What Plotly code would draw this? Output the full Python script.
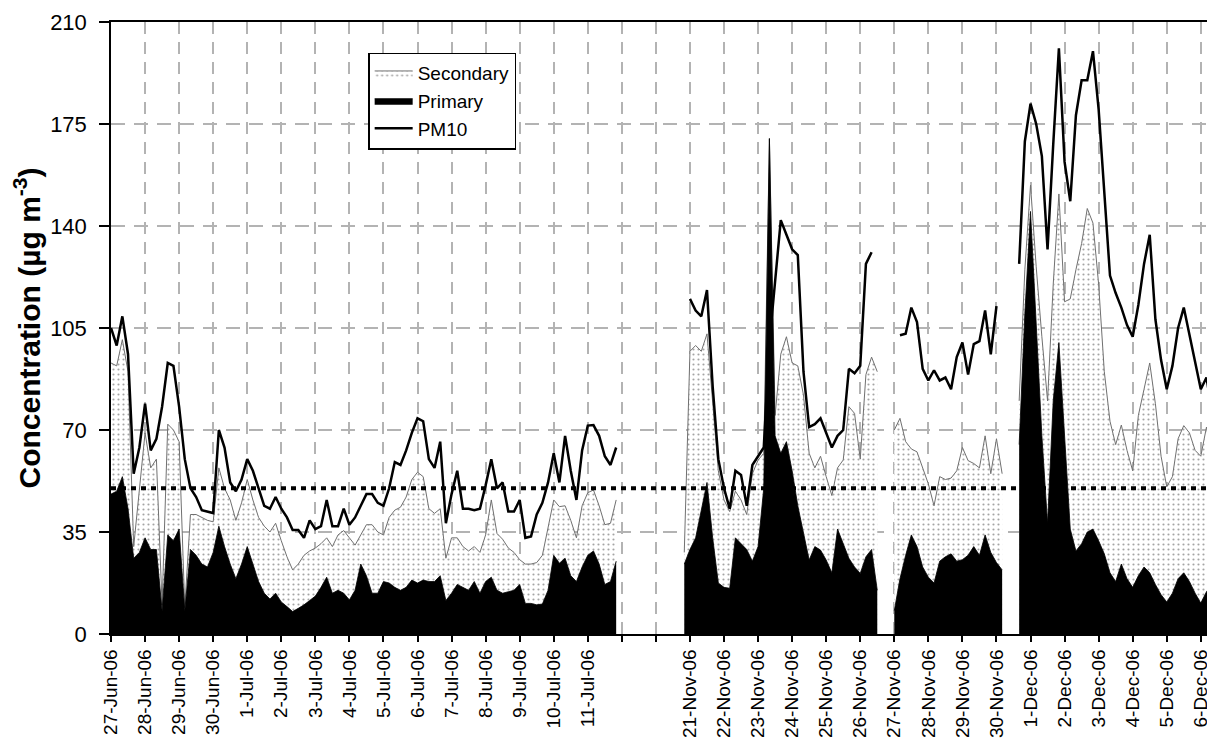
import numpy as np
import plotly.graph_objects as go

# ---------------- data ----------------
# time step: 4 h (6 values per day); day index 0 = 27-Jun-06
STEPS_PER_DAY = 6
JUL_START_DAY = 0            # 27-Jun-06 00:00
NOV_START_DAY = 17 - 1 / 6   # 20-Nov-06 20:00 (axis index 17 = 21-Nov-06)

# summer campaign (27-Jun-06 .. 11-Jul-06)
jul_pm10 = [
    105, 99, 109, 96, 55, 64, 79, 63, 67, 78,
    93, 92, 78, 60, 50, 47, 42.5, 42, 41.5, 70,
    64, 52, 49, 53, 60, 56, 50, 44, 43, 47,
    43, 40, 35.7, 35.7, 33, 39, 36, 37, 46, 37,
    37, 43, 37.5, 40, 44, 48, 48, 45, 44, 50,
    59, 58, 63, 69, 74, 73, 60, 57, 66, 38,
    48, 56, 43, 43, 42.5, 43, 51, 60, 50, 52,
    42, 42, 46, 33, 33.5, 41, 45, 52, 62, 52,
    68, 56, 46, 63, 71.5, 71.7, 68, 61, 58, 64]
# top of the dotted area = primary + secondary
jul_total = [
    93, 92, 101, 90, 30, 50, 69, 57, 60, 10,
    72, 70, 66, 9, 41, 41, 40, 39, 38.5, 57,
    50, 46, 39, 45, 53, 46, 40, 37, 35, 38,
    32, 26.5, 22, 24, 27, 28.5, 29.5, 31, 33, 30,
    34, 35.5, 33, 30.5, 34, 37.5, 37.5, 35, 34, 40,
    42.5, 43.5, 47, 53, 55.5, 54, 43, 41.4, 43, 26,
    33, 33, 30, 28.5, 30, 28, 34, 46, 34.5, 32.5,
    29.5, 28, 25.5, 24, 24, 24.5, 27, 36, 46, 43.7,
    44, 39, 33, 44, 48.5, 49.4, 44, 37.5, 38, 46]
jul_primary = [
    48, 49, 54, 43, 26, 28, 33, 29, 29, 8,
    34, 32, 36, 8, 29, 27, 24, 23, 28, 37,
    30, 24, 19, 24, 30, 24, 18, 14, 12, 14,
    11, 9.4, 7.7, 8.8, 10, 11.5, 13, 16, 19.5, 14,
    15, 14, 11.7, 15, 24, 20, 14, 14, 18, 17.5,
    16, 15, 16, 18.5, 17.5, 18.5, 18, 18, 20, 11.5,
    14, 17, 16, 15, 18, 14, 18, 19.5, 15, 14,
    14.5, 15, 17, 10.5, 10.5, 10, 10.3, 15, 27, 24.3,
    26, 20, 18, 23, 27, 28.5, 24, 17, 18, 25]

# winter campaign (20-Nov-06 20:00 .. 6-Dec-06)
nov_pm10 = [
    None, 115, 111, 109, 118, 85, 60, 50, 43, 56,
    54.6, 44, 58, 61, 64, 100, 122, 142, 137, 132,
    130, 90, 71, 72, 74, 69, 64, 68, 70, 91,
    89.5, 92, 127, 131, None, None, None, None, 102.5, 103,
    112, 107, 91, 87, 90.5, 87, 88, 84, 95, 100,
    89, 99.5, 100.5, 111, 96, 112.5, None, None, None,
    127, 169, 182, 175, 164, 132, 168, 201, 162, 148.5,
    178, 190, 190, 200, 180, 150, 123, 117, 112, 106,
    102, 113, 127, 137, 108, 94, 84, 92, 105, 112,
    103, 93, 84, 88, 76]
nov_total = [
    28, 97, 99, 97, 103, 78, 56, 46, 42, 49,
    46, 41, 55, 59.7, 62, 170, 75, 96, 102, 93,
    92, 82, 62, 57, 61, 54, 47.5, 57, 59.7, 78,
    75.7, 60, 89, 95, 90, None, None, 70, 74, 66,
    63.5, 62.5, 57, 51.5, 44, 54, 53, 53.5, 56, 64,
    59.5, 58.5, 57, 68, 55, 67, 55, None, None,
    80, 125, 154, 126, 102, 80, 120, 151, 114, 115,
    125, 134, 146, 141, 120, 90, 73, 65, 71.7, 63,
    56, 75, 84, 93, 79, 61, 50.5, 54, 67, 71.5,
    69, 63, 61, 71, 60]
nov_primary = [
    24, 29, 33, 42, 52, 33, 17.5, 16, 15.7, 33,
    31, 29, 25, 30, 50, 170, 68, 62, 66, 56,
    44, 35, 25.4, 30, 28.8, 25.4, 21, 36, 31, 26,
    23, 20.8, 26.5, 29, 15, None, None, 8, 19, 27,
    34, 30, 23, 19.5, 17.5, 25, 26.5, 27.5, 25, 25.5,
    27, 30, 27, 34, 28, 24.5, 22, None, None,
    65, 110, 145, 105, 68, 38, 80, 100, 68, 36,
    28.5, 31, 35, 36, 32, 27.5, 21, 18, 24, 19,
    16, 20, 23, 21, 17, 13.5, 11, 14, 19, 21,
    18, 14, 10.6, 14.5, 17]

tick_labels = [
    "27-Jun-06", "28-Jun-06", "29-Jun-06", "30-Jun-06", "1-Jul-06", "2-Jul-06",
    "3-Jul-06", "4-Jul-06", "5-Jul-06", "6-Jul-06", "7-Jul-06", "8-Jul-06",
    "9-Jul-06", "10-Jul-06", "11-Jul-06",
    "21-Nov-06", "22-Nov-06", "23-Nov-06", "24-Nov-06", "25-Nov-06", "26-Nov-06",
    "27-Nov-06", "28-Nov-06", "29-Nov-06", "30-Nov-06", "1-Dec-06", "2-Dec-06",
    "3-Dec-06", "4-Dec-06", "5-Dec-06", "6-Dec-06"]
# axis positions (day index) of the labels; 15 and 16 are unlabeled break days
tick_positions = list(range(0, 15)) + list(range(17, 33))
blank_positions = [15, 16]

PM10_LIMIT = 50
Y_TICKS = [0, 35, 70, 105, 140, 175, 210]
X_END_DAY = 32.27

# ---------------- build time axis ----------------
jul_t = JUL_START_DAY + np.arange(len(jul_pm10)) / STEPS_PER_DAY
nov_t = NOV_START_DAY + np.arange(len(nov_pm10)) / STEPS_PER_DAY
x = list(jul_t) + [None] + list(nov_t)
pm10 = jul_pm10 + [None] + nov_pm10
total = jul_total + [None] + nov_total
primary = jul_primary + [None] + nov_primary


def segments(xs, ys):
    """split into contiguous runs (fills must not bridge missing data)"""
    out, cx, cy = [], [], []
    for xv, yv in zip(xs, ys):
        if xv is None or yv is None:
            if cx:
                out.append((cx, cy))
            cx, cy = [], []
        else:
            cx.append(xv)
            cy.append(yv)
    if cx:
        out.append((cx, cy))
    return out


FONT = "Liberation Sans, Arial, sans-serif"

fig = go.Figure()
for i, (sx, sy) in enumerate(segments(x, total)):
    fig.add_trace(go.Scatter(
        x=sx, y=sy, name="Secondary", legendgroup="sec", showlegend=(i == 0),
        mode="lines", fill="tozeroy",
        line=dict(color="#707070", width=1),
        fillcolor="white",
        fillpattern=dict(shape=".", fgcolor="#4a4a4a", bgcolor="white",
                         size=5, solidity=0.15),
    ))
for i, (sx, sy) in enumerate(segments(x, primary)):
    fig.add_trace(go.Scatter(
        x=sx, y=sy, name="Primary", legendgroup="pri", showlegend=(i == 0),
        mode="lines", fill="tozeroy",
        line=dict(color="black", width=0.8), fillcolor="black",
    ))
fig.add_trace(go.Scatter(
    x=x, y=pm10, name="PM10", mode="lines", connectgaps=False,
    line=dict(color="black", width=2.5),
))
fig.add_hline(y=PM10_LIMIT, line=dict(color="black", width=4, dash="5px,5px"))

grid_common = dict(gridcolor="#b3b3b3", gridwidth=2)

# the page body adds an 8 px offset; the figure is sized so that the plot
# area lands at x 111..1210, y 22..634 of the 1215x740 window
fig.update_layout(
    width=1207, height=732,
    margin=dict(l=103, r=5, t=14, b=106),
    paper_bgcolor="white", plot_bgcolor="white",
    font=dict(family=FONT, color="black"),
    showlegend=True,
    legend=dict(
        x=0.234, y=0.95, xanchor="left", yanchor="top",
        bgcolor="white", bordercolor="black", borderwidth=1.5,
        font=dict(size=19, family=FONT), traceorder="normal",
        itemwidth=38, tracegroupgap=0,
    ),
    xaxis=dict(
        range=[0, X_END_DAY], automargin=False,
        tickmode="array", tickvals=tick_positions, ticktext=tick_labels,
        tickangle=-90, tickfont=dict(size=19, family=FONT),
        ticks="outside", ticklen=6, tickwidth=1.5, tickcolor="black",
        showline=True, linecolor="black", linewidth=1.5, mirror=True,
        showgrid=True, griddash="12px,8px", **grid_common,
        minor=dict(tickmode="array", tickvals=blank_positions, ticks="outside",
                   ticklen=6, tickwidth=1.5, tickcolor="black",
                   showgrid=True, griddash="12px,8px", **grid_common),
        zeroline=False,
    ),
    yaxis=dict(
        range=[0, 210], automargin=False,
        tickmode="array", tickvals=Y_TICKS,
        tickfont=dict(size=22, family=FONT), ticklabelstandoff=8,
        ticks="outside", ticklen=10, tickwidth=1.5, tickcolor="black",
        showline=True, linecolor="black", linewidth=1.5, mirror=True,
        showgrid=True, griddash="14px,9px", **grid_common,
        zeroline=False,
        title=dict(text="<b>Concentration (\u00b5g m<sup>-3</sup>)</b>",
                   font=dict(size=30, family=FONT), standoff=8),
    ),
)

fig.write_html("out.html")
